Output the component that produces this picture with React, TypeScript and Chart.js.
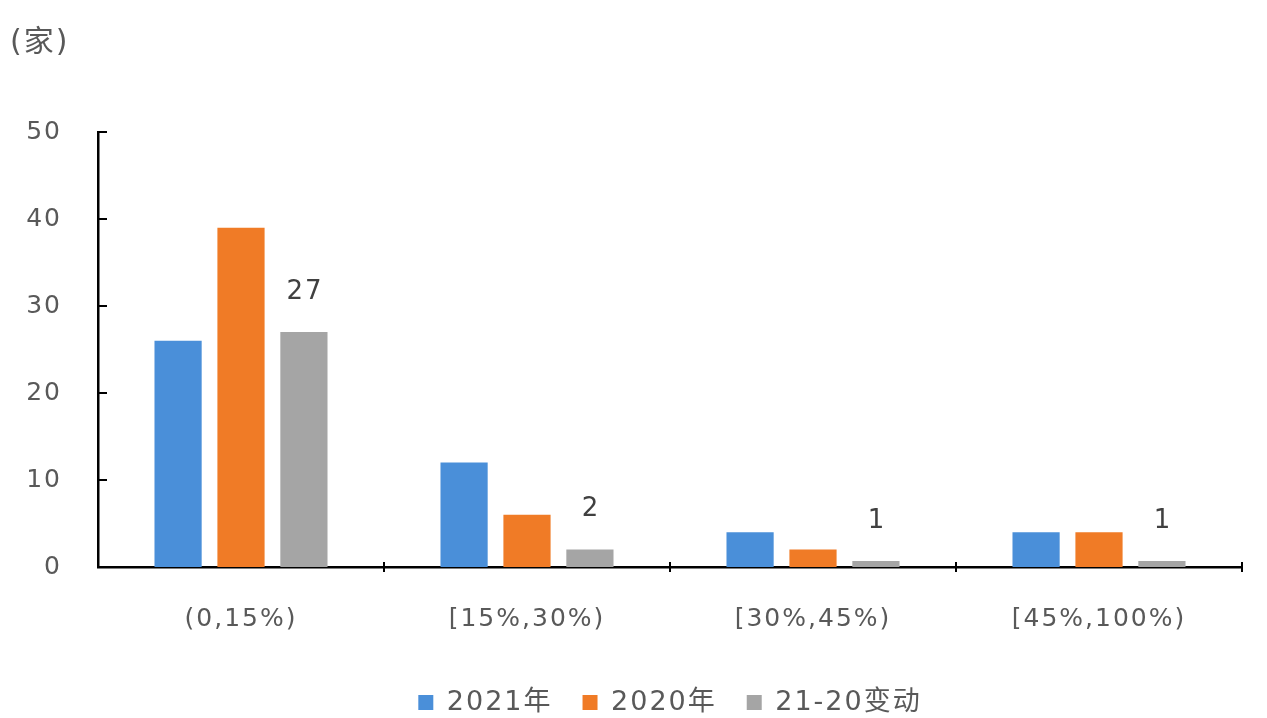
import React, { useEffect, useRef } from "react";
import { Chart, registerables } from "chart.js";

Chart.register(...registerables);

const UNIT_LABEL = "(家)";
const CATEGORIES = ["(0,15%)", "[15%,30%)", "[30%,45%)", "[45%,100%)"];
const SERIES_NAMES = ["2021年", "2020年", "21-20变动"];
const VALUES_2021 = [26, 12, 4, 4];
const VALUES_2020 = [39, 6, 2, 4];
const VALUES_CHANGE = [27, 2, 0.7, 0.7];
const CHANGE_LABELS = ["27", "2", "1", "1"];
const Y_MIN = 0;
const Y_MAX = 50;
const Y_STEP = 10;

const COLORS = ["#4A8FD9", "#F07B26", "#A5A5A5"];
const FONT = "'DejaVu Sans', 'Noto Sans CJK SC', sans-serif";
const TEXT_COLOR = "#595959";

const spacingPlugin = {
  id: "spacing",
  beforeUpdate(c: any) {
    c.ctx.letterSpacing = "2px";
  },
  beforeDraw(c: any) {
    c.ctx.letterSpacing = "2px";
  },
};

const unitPlugin = {
  id: "unitLabel",
  afterDraw(c: any) {
    const ctx = c.ctx;
    ctx.save();
    ctx.font = `30px ${FONT}`;
    ctx.fillStyle = TEXT_COLOR;
    ctx.textAlign = "left";
    ctx.textBaseline = "middle";
    ctx.fillText(UNIT_LABEL, 10, 43);
    ctx.restore();
  },
};

const axisTicksPlugin = {
  id: "axisTicks",
  afterDraw(c: any) {
    const { ctx, chartArea, scales } = c;
    const y = scales.y;
    const x = scales.x;
    ctx.save();
    ctx.strokeStyle = "#000";
    ctx.lineWidth = 2;
    y.ticks.forEach((t: any) => {
      if (t.value === Y_MIN) return;
      const py = y.getPixelForValue(t.value);
      ctx.beginPath();
      ctx.moveTo(chartArea.left, py);
      ctx.lineTo(chartArea.left + 9, py);
      ctx.stroke();
    });
    for (let i = 0; i < CATEGORIES.length; i++) {
      const px = x.getPixelForValue(i + 0.5);
      ctx.beginPath();
      ctx.moveTo(px, chartArea.bottom - 5);
      ctx.lineTo(px, chartArea.bottom + 5);
      ctx.stroke();
    }
    ctx.restore();
  },
};

const valueLabelPlugin = {
  id: "valueLabels",
  afterDatasetsDraw(c: any) {
    const ctx = c.ctx;
    const meta = c.getDatasetMeta(2);
    ctx.save();
    ctx.font = `26px ${FONT}`;
    ctx.fillStyle = "#404040";
    ctx.textAlign = "center";
    ctx.textBaseline = "middle";
    meta.data.forEach((el: any, i: number) => {
      ctx.fillText(CHANGE_LABELS[i], el.x + 1, el.y - 40);
    });
    ctx.restore();
  },
};

export default function App() {
  const ref = useRef<HTMLCanvasElement>(null);

  useEffect(() => {
    document.body.style.margin = "0";
    document.body.style.overflow = "hidden";
    const values = [VALUES_2021, VALUES_2020, VALUES_CHANGE];
    const chart = new Chart(ref.current as HTMLCanvasElement, {
      type: "bar",
      data: {
        labels: CATEGORIES,
        datasets: SERIES_NAMES.map((name, i) => ({
          label: name,
          data: values[i],
          backgroundColor: COLORS[i],
          borderWidth: 0,
          barPercentage: 0.75,
          categoryPercentage: 0.66,
        })),
      },
      options: {
        animation: false,
        responsive: true,
        maintainAspectRatio: false,
        layout: { padding: { left: 10, right: 25, top: 132, bottom: -8 } },
        plugins: {
          tooltip: { enabled: false },
          title: { display: false },
          legend: {
            position: "bottom",
            fullSize: false,
            labels: {
              boxWidth: 15,
              boxHeight: 15,
              padding: 30,
              color: TEXT_COLOR,
              font: { size: 27, family: FONT },
            },
          },
        },
        scales: {
          x: {
            type: "category",
            offset: true,
            z: 1,
            grid: { display: false },
            border: { display: true, color: "#000", width: 2.5 },
            ticks: {
              color: TEXT_COLOR,
              font: { size: 25, family: FONT },
              padding: 29,
              maxRotation: 0,
              autoSkip: false,
            },
            afterFit(s: any) {
              s.height = 92;
            },
          },
          y: {
            min: Y_MIN,
            max: Y_MAX,
            z: 1,
            grid: { display: false },
            border: { display: true, color: "#000", width: 2.5 },
            ticks: {
              stepSize: Y_STEP,
              color: TEXT_COLOR,
              font: { size: 25, family: FONT },
              padding: 28,
            },
            afterFit(s: any) {
              s.width = 88;
            },
          },
        },
      },
      plugins: [spacingPlugin, unitPlugin, axisTicksPlugin, valueLabelPlugin],
    } as any);
    return () => {
      chart.destroy();
    };
  }, []);

  return (
    <div style={{ position: "relative", width: 1267, height: 718 }}>
      <canvas ref={ref} />
    </div>
  );
}
